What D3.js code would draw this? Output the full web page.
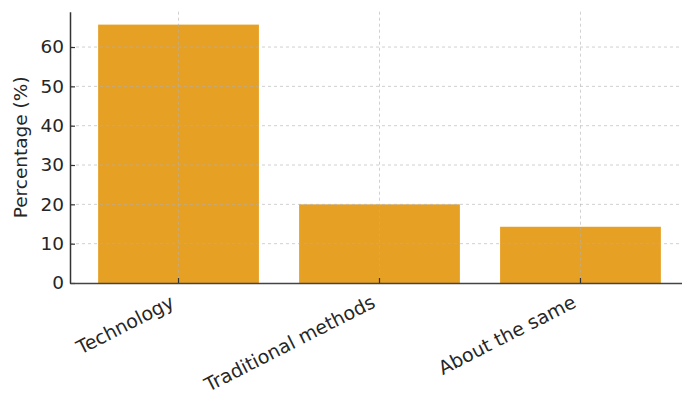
<!DOCTYPE html>
<html>
<head>
<meta charset="utf-8">
<script src="https://cdn.jsdelivr.net/npm/d3@7"></script>
<style>
  html, body { margin: 0; padding: 0; background: #fff; }
  svg { display: block; }
  text { font-family: "DejaVu Sans", sans-serif; fill: #262626; }
</style>
</head>
<body>
<svg id="chart" width="682" height="394"></svg>
<script>
const categories = ["Technology", "Traditional methods", "About the same"];
const values = [65.7, 20.0, 14.3];
const yTicks = [0, 10, 20, 30, 40, 50, 60];
const yLabel = "Percentage (%)";

const W = 682, H = 394;
const mLeft = 70, mTop = 11.7, mBottom = 283, mRight = 689;
const svg = d3.select("#chart");

const yMax = d3.max(values) * 1.05;
const x = d3.scaleBand().domain(categories).range([mLeft, mRight])
  .paddingInner(0.2).paddingOuter(0.14);
const y = d3.scaleLinear().domain([0, yMax]).range([mBottom, mTop]);

// bars
svg.append("g").selectAll("rect").data(values).join("rect")
  .attr("x", (d, i) => x(categories[i]))
  .attr("width", x.bandwidth())
  .attr("y", d => y(d))
  .attr("height", d => y(0) - y(d))
  .attr("fill", "#e6a024");

// grid (drawn over bars)
const grid = svg.append("g").attr("stroke", "#b0b0b0").attr("stroke-opacity", 0.6)
  .attr("stroke-width", 1).attr("stroke-dasharray", "3,3");
grid.selectAll("line.h").data(yTicks.filter(t => t > 0)).join("line")
  .attr("x1", mLeft).attr("x2", W).attr("y1", d => y(d)).attr("y2", d => y(d));
grid.selectAll("line.v").data(categories).join("line")
  .attr("x1", d => x(d) + x.bandwidth() / 2).attr("x2", d => x(d) + x.bandwidth() / 2)
  .attr("y1", mTop).attr("y2", mBottom);

// y axis
const yAxis = d3.axisLeft(y).tickValues(yTicks).tickSizeInner(-5).tickSizeOuter(0).tickPadding(6);
const gy = svg.append("g").attr("transform", `translate(${mLeft},0)`).call(yAxis);
gy.select(".domain").attr("stroke", "#333").attr("stroke-width", 1.5);
gy.selectAll(".tick line").attr("stroke", "#333").attr("stroke-width", 1.2);
gy.selectAll(".tick text").style("font-size", "18.5px").attr("fill", "#262626")
  .style("font-family", "DejaVu Sans");

// x axis
const xAxis = d3.axisBottom(x).tickSizeInner(-5).tickSizeOuter(0).tickPadding(8);
const gx = svg.append("g").attr("transform", `translate(0,${mBottom})`).call(xAxis);
gx.select(".domain").attr("stroke", "#444").attr("stroke-width", 1.5);
gx.selectAll(".tick line").attr("stroke", "#333").attr("stroke-width", 1.2);
gx.selectAll(".tick text")
  .style("font-size", "19px").style("font-family", "DejaVu Sans").attr("fill", "#262626")
  .attr("text-anchor", "end")
  .attr("dy", null).attr("y", 0)
  .attr("transform", "translate(-3,23.5) rotate(-27)");

// y label
svg.append("text")
  .attr("transform", `translate(27,${(mTop + mBottom) / 2}) rotate(-90)`)
  .attr("text-anchor", "middle")
  .style("font-size", "18.5px")
  .text(yLabel);
</script>
</body>
</html>
